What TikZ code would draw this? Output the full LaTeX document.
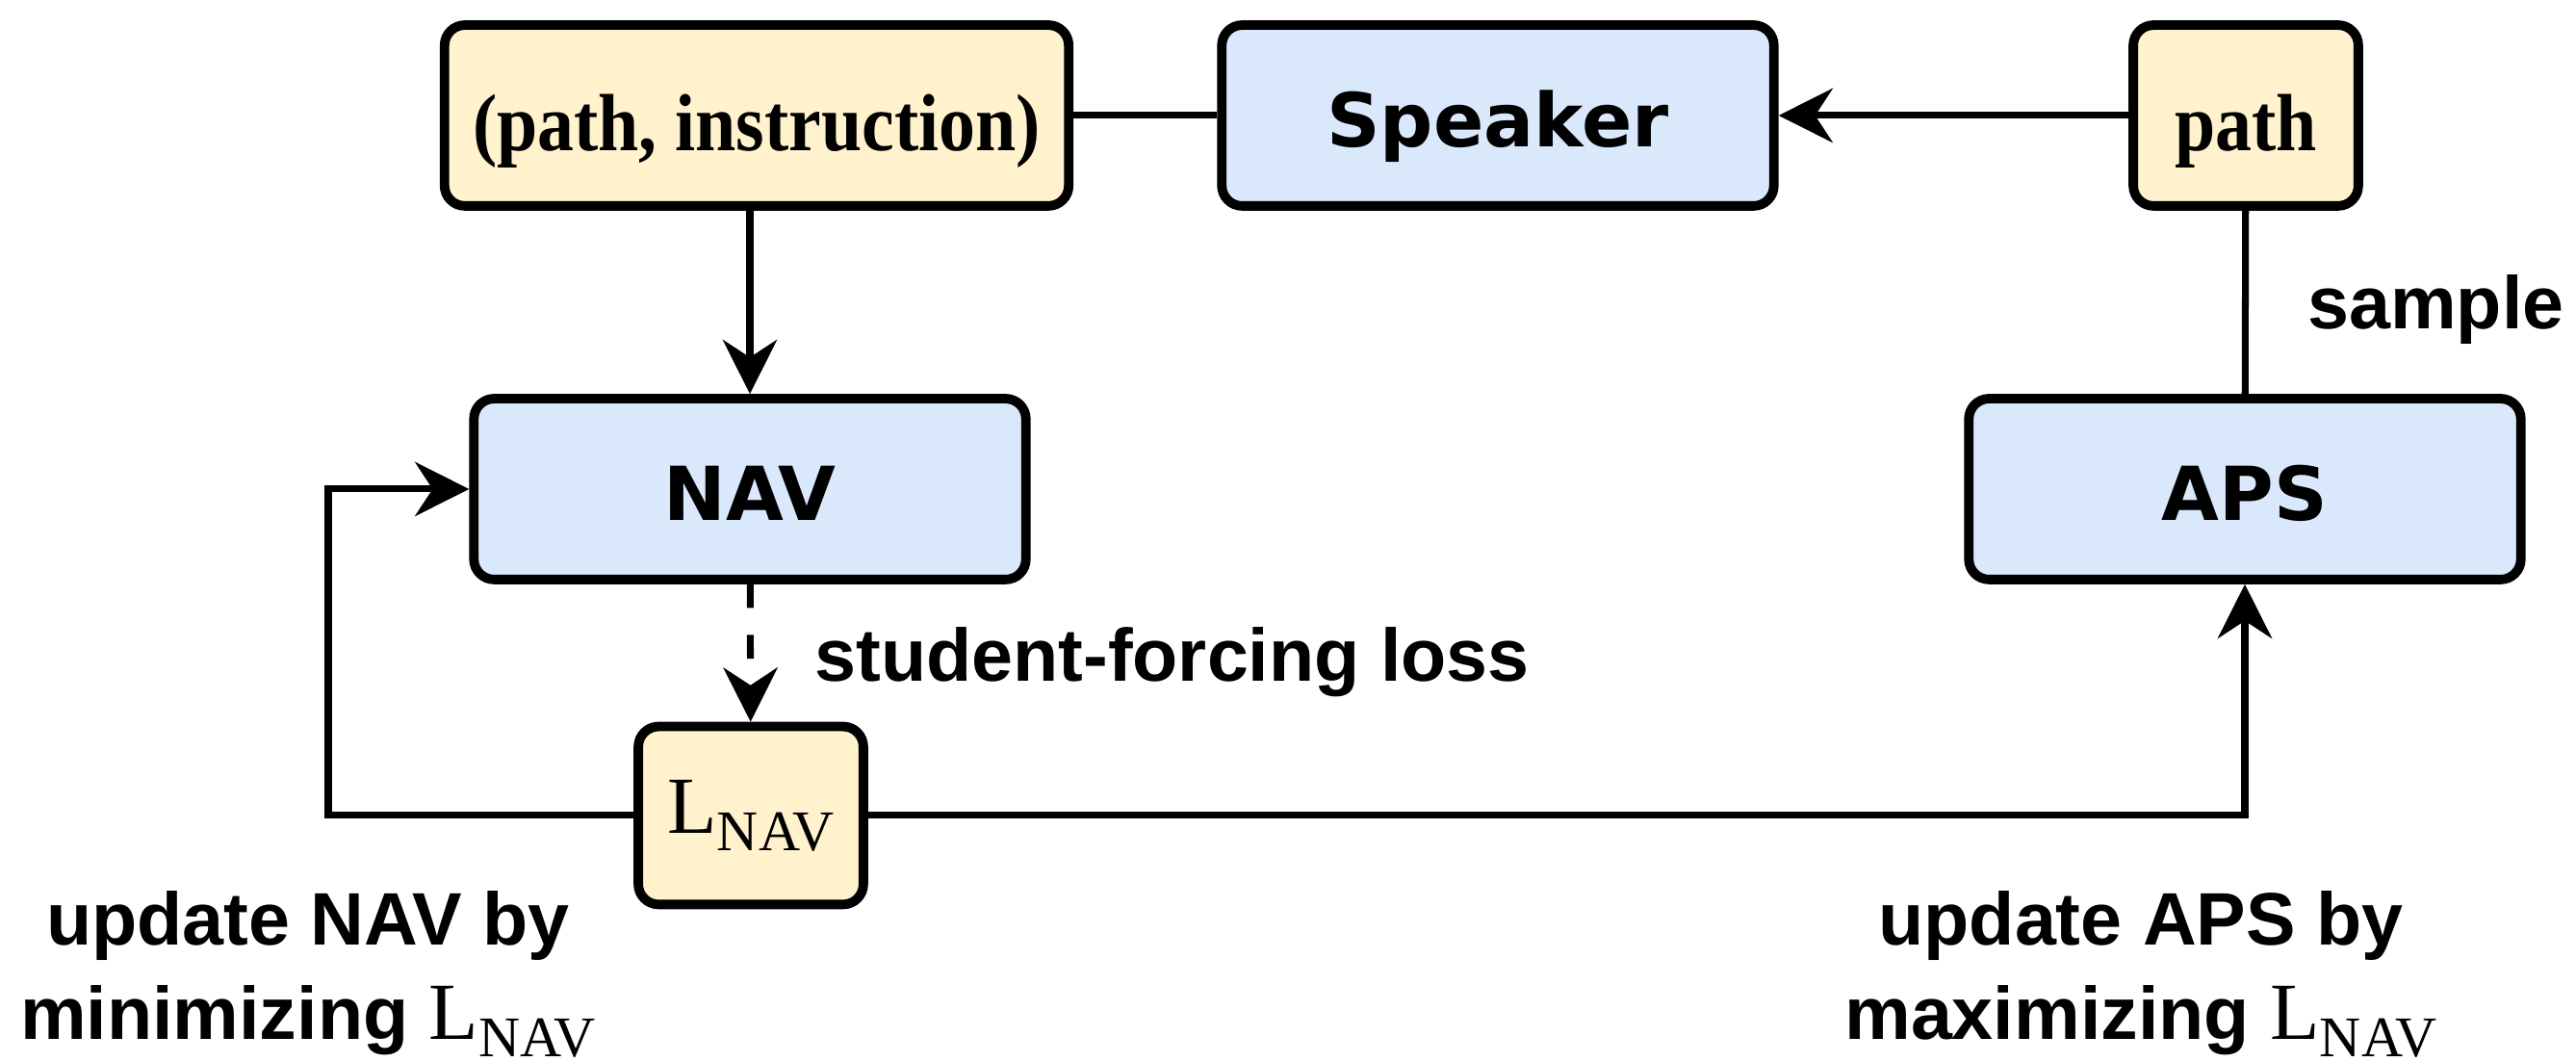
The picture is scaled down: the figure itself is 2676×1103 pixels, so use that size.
\documentclass[tikz,border=0pt]{standalone}
\usepackage{fontspec}
\setmainfont{Liberation Serif}
\setsansfont{Liberation Sans}
\newfontfamily\boxfont{DejaVu Sans}
\newfontfamily\serifbox[FakeStretch=0.9]{Liberation Serif}
\usetikzlibrary{arrows.meta}
\definecolor{netblue}{HTML}{DAE8FC}
\definecolor{datayellow}{HTML}{FFF2CC}
\newcommand{\lnav}{{\mdseries\rmfamily\fontsize{12}{14}\selectfont L\raisebox{-2.6pt}{\fontsize{8.5}{10}\selectfont NAV}}}

\begin{document}
\begin{tikzpicture}[x=0.005cm,y=-0.005cm,
  net/.style={draw,line width=1.4pt,rounded corners=3pt,fill=netblue,minimum height=0.94cm,minimum width=2.87cm,text height=9.4pt,text depth=0pt,font=\boxfont\bfseries\fontsize{11}{13}\selectfont},
  data/.style={draw,line width=1.4pt,rounded corners=3pt,fill=datayellow,minimum height=0.94cm,text height=10.4pt,text depth=0pt,font=\serifbox\bfseries\fontsize{12}{14}\selectfont},
  lbl/.style={inner sep=0pt,font=\sffamily\bfseries\fontsize{11}{14}\selectfont,align=center},
  conn/.style={line width=1pt},
  arr/.style={conn,-{Stealth[length=8pt,width=8pt,inset=2.6pt]}}]
\useasboundingbox (0,0) rectangle (2676,1103);
\node[data,minimum width=3.245cm] (pair) at (786,120) {(path, instruction)};
\node[net] (speaker) at (1556,120) {Speaker};
\node[data,minimum width=1.17cm] (path) at (2333,120) {path};
\node[net] (nav) at (779,508) {NAV};
\node[net] (aps) at (2332,508) {APS};
\node[data,minimum width=1.17cm,minimum height=0.925cm,text height=7.9pt,text depth=2.6pt] (loss) at (780,847) {\lnav};
\coordinate (navloop) at (341,847);
\draw[conn] (pair) -- (speaker);
\draw[arr] (path) -- (speaker);
\draw[conn] (path) -- (aps);
\draw[arr] (pair.south -| nav.north) -- (nav.north);
\draw[arr,dash pattern=on 3.5pt off 4pt] (nav) -- (loss);
\draw[arr] (loss.west) -- (navloop) |- (nav.west);
\draw[arr] (loss.east) -| (aps.south);
\node[lbl,anchor=west] (samplelbl) at (2396,322) {sample};
\node[lbl,anchor=west] (sflbl) at (845,688) {student-forcing loss};
\node[lbl] (navupd) at (320,1012) {update NAV by\\minimizing \lnav};
\node[lbl] (apsupd) at (2224,1012) {update APS by\\maximizing \lnav};
\end{tikzpicture}
\end{document}
